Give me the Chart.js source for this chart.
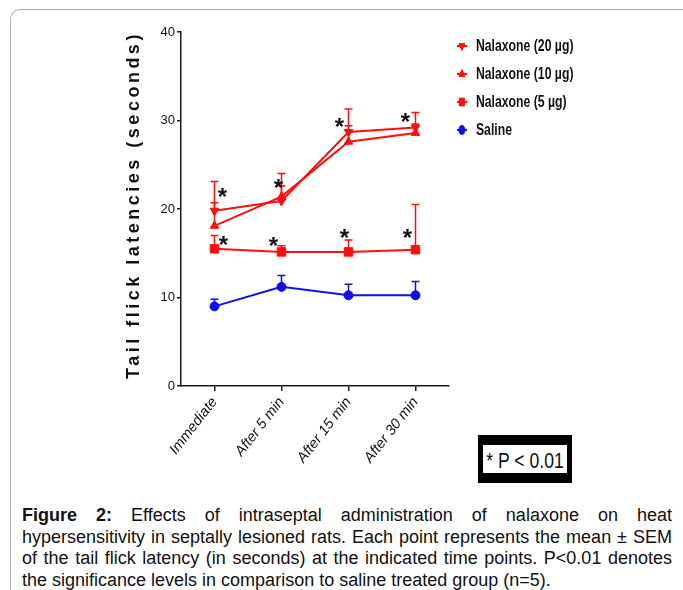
<!DOCTYPE html>
<html>
<head>
<meta charset="utf-8">
<script src="https://cdn.jsdelivr.net/npm/chart.js@4.4.1/dist/chart.umd.min.js"></script>
<style>
  html, body { margin: 0; padding: 0; background: #fff; }
  body { width: 683px; height: 590px; position: relative; overflow: hidden; }
  #frame {
    position: absolute; left: 10px; top: 9px; width: 673px; height: 581px;
    border-top: 1px solid #b0b0b0; border-left: 1px solid #b0b0b0;
    border-top-left-radius: 10px;
  }
  #plot { position: absolute; left: 0; top: 0; }
  #pbox {
    position: absolute; left: 478px; top: 435px; width: 84px; height: 28px;
    border: 5px solid #000; border-top-width: 10px; border-bottom-width: 10px;
    background: #fff; color: #111;
  }
  #pbox span {
    position: absolute; left: 50%; top: 3px; white-space: nowrap; line-height: 28px;
    transform: translateX(-50%) scaleX(0.8);
    font: 22px 'Liberation Sans', Arial, sans-serif;
  }
  #caption {
    position: absolute; left: 22px; top: 505px; width: 650px; color: #111;
    font: 18px 'Liberation Sans', Arial, sans-serif; line-height: 21.5px; text-align: justify;
  }
</style>
</head>
<body>
<div id="frame"></div>
<canvas id="plot" width="683" height="480"></canvas>
<div id="pbox"><span>* P &lt; 0.01</span></div>
<div id="caption"><b>Figure 2:</b> Effects of intraseptal administration of nalaxone on heat hypersensitivity in septally lesioned rats. Each point represents the mean ± SEM of the tail flick latency (in seconds) at the indicated time points. P&lt;0.01 denotes the significance levels in comparison to saline treated group (n=5).</div>
<script>
const timePoints = ['Immediate', 'After 5 min', 'After 15 min', 'After 30 min'];

const nal20Mean = [19.8, 20.9, 28.7, 29.2];
const nal20Sem  = [3.3, 3.1, 2.6, 1.7];
const nal10Mean = [18.1, 21.4, 27.6, 28.6];
const nal10Sem  = [2.6, 1.2, 1.8, 1.0];
const nal5Mean  = [15.5, 15.15, 15.15, 15.4];
const nal5Sem   = [1.5, 0.7, 1.35, 5.1];
const salineMean = [9.0, 11.2, 10.25, 10.25];
const salineSem  = [0.8, 1.3, 1.25, 1.55];

// significance stars (y value of each asterisk)
const starHigh = [22.0, 23.1, 29.9, 30.5];
const starLow  = [16.6, 16.5, 17.4, 17.4];

const yTicks = [0, 10, 20, 30, 40];

const RED = '#ff0d0d';
const BLUE = '#0f0fe6';
const FONT = "'Liberation Sans', Arial, sans-serif";
const LEGEND_SQUEEZE = 0.72;

// little legend symbol: line segment with the marker on it
function legendIcon(color, style, radius, rotation) {
    const c = document.createElement('canvas');
    c.width = 15; c.height = 12;
    const ctx = c.getContext('2d');
    ctx.strokeStyle = color;
    ctx.fillStyle = color;
    ctx.lineWidth = 2;
    ctx.beginPath();
    ctx.moveTo(0, 6);
    ctx.lineTo(15, 6);
    ctx.stroke();
    ctx.lineWidth = 1;
    Chart.helpers.drawPoint(ctx, { pointStyle: style, radius, rotation, borderWidth: 1 }, 7.5, 6);
    return c;
}

const errorBars = {
    id: 'errorBars',
    beforeDatasetsDraw(chart) {
        const { ctx, scales: { y } } = chart;
        chart.data.datasets.forEach((ds, di) => {
            const meta = chart.getDatasetMeta(di);
            ctx.save();
            ctx.strokeStyle = ds.borderColor;
            ctx.lineWidth = 1.5;
            meta.data.forEach((pt, i) => {
                const top = y.getPixelForValue(ds.data[i] + ds.sem[i]);
                ctx.beginPath();
                ctx.moveTo(pt.x, pt.y);
                ctx.lineTo(pt.x, top);
                ctx.moveTo(pt.x - 4, top);
                ctx.lineTo(pt.x + 4, top);
                ctx.stroke();
            });
            ctx.restore();
        });
    }
};

const stars = {
    id: 'stars',
    afterDatasetsDraw(chart) {
        const { ctx, scales: { x, y } } = chart;
        const highShift = [8, -3, -9, -10];
        const lowShift = [9, -8, -4, -8];
        ctx.save();
        ctx.fillStyle = '#111';
        ctx.font = 'bold 24px ' + FONT;
        ctx.textAlign = 'center';
        ctx.textBaseline = 'alphabetic';
        timePoints.forEach((t, i) => {
            const px = x.getPixelForValue(i);
            ctx.fillText('*', px + highShift[i], y.getPixelForValue(starHigh[i]) + 14);
            ctx.fillText('*', px + lowShift[i], y.getPixelForValue(starLow[i]) + 14);
        });
        ctx.restore();
    }
};

const yTitle = {
    id: 'yTitle',
    afterDraw(chart) {
        const { ctx } = chart;
        ctx.save();
        ctx.translate(134, 205);
        ctx.rotate(-Math.PI / 2);
        ctx.font = 'bold 18px ' + FONT;
        if ('letterSpacing' in ctx) ctx.letterSpacing = '3.5px';
        ctx.fillStyle = '#111';
        ctx.textAlign = 'center';
        ctx.textBaseline = 'middle';
        ctx.fillText('Tail flick latencies (seconds)', 0, 0);
        ctx.restore();
    }
};

// legend at the right, a bit higher and tighter than Chart.js would put it,
// drawn horizontally squeezed like the narrow font of the original
const legendPlace = {
    id: 'legendPlace',
    beforeInit(chart) {
        const lg = chart.legend;
        const fit = lg.fit;
        const draw = lg.draw;
        lg.fit = function () {
            fit.call(this);
            this.width = 234;
        };
        lg.draw = function (area) {
            const ctx = this.ctx;
            const ox = this.left + this.options.labels.padding;
            ctx.save();
            ctx.translate(ox, 0);
            ctx.scale(LEGEND_SQUEEZE, 1);
            ctx.translate(-ox, 0);
            draw.call(this, area);
            ctx.restore();
        };
    },
    afterLayout(chart) {
        const lg = chart.legend;
        lg.left -= 6; lg.right -= 6;
        lg.top -= 5.5; lg.bottom -= 5.5;
    }
};

const icons = [
    legendIcon(RED, 'triangle', 5, 180),
    legendIcon(RED, 'triangle', 5, 0),
    legendIcon(RED, 'rect', 5.5, 0),
    legendIcon(BLUE, 'circle', 4.5, 0),
];

function series(label, data, sem, color, style, radius, rotation) {
    return {
        label, data, sem,
        borderColor: color,
        backgroundColor: color,
        borderWidth: 2,
        pointStyle: style,
        pointRadius: radius,
        pointRotation: rotation,
        pointBackgroundColor: color,
        pointBorderColor: color,
        pointBorderWidth: 1,
        tension: 0,
        fill: false,
    };
}

new Chart(document.getElementById('plot'), {
    type: 'line',
    data: {
        labels: timePoints,
        datasets: [
            series('Nalaxone (20 µg)', nal20Mean, nal20Sem, RED, 'triangle', 5, 180),
            series('Nalaxone (10 µg)', nal10Mean, nal10Sem, RED, 'triangle', 5, 0),
            series('Nalaxone (5 µg)', nal5Mean, nal5Sem, RED, 'rect', 6, 0),
            series('Saline', salineMean, salineSem, BLUE, 'circle', 4.5, 0),
        ],
    },
    options: {
        responsive: false,
        animation: false,
        events: [],
        layout: { padding: { top: 32, left: 0, right: 0, bottom: 0 } },
        plugins: {
            tooltip: { enabled: false },
            title: { display: false },
            legend: {
                position: 'right',
                align: 'start',
                labels: {
                    usePointStyle: true,
                    pointStyleWidth: 22,
                    boxHeight: 14,
                    padding: 11,
                    color: '#111',
                    font: { family: FONT, size: 17, weight: 'bold' },
                    generateLabels(chart) {
                        return Chart.defaults.plugins.legend.labels.generateLabels(chart).map((item, i) => ({
                            ...item,
                            pointStyle: icons[i],
                            rotation: 0,
                        }));
                    },
                },
            },
        },
        scales: {
            x: {
                type: 'category',
                offset: true,
                afterFit(scale) { scale.height = 94; },
                border: { display: true, color: '#1a1a1a', width: 1.5 },
                grid: { offset: false, drawOnChartArea: false, drawTicks: true, tickLength: 5, color: '#1a1a1a', lineWidth: 1.5 },
                ticks: {
                    color: '#111',
                    minRotation: 52,
                    maxRotation: 52,
                    padding: 3,
                    font: { family: FONT, size: 14.5, style: 'italic' },
                },
            },
            y: {
                min: 0,
                max: 40,
                afterFit(scale) { scale.width = 181; },
                afterBuildTicks(scale) { scale.ticks = yTicks.map(v => ({ value: v })); },
                border: { display: true, color: '#1a1a1a', width: 1.5 },
                grid: { drawOnChartArea: false, drawTicks: true, tickLength: 4, color: '#1a1a1a', lineWidth: 1.5 },
                ticks: {
                    color: '#111',
                    padding: 2,
                    font: { family: FONT, size: 13 },
                },
            },
        },
    },
    plugins: [legendPlace, errorBars, stars, yTitle],
});
</script>
</body>
</html>
